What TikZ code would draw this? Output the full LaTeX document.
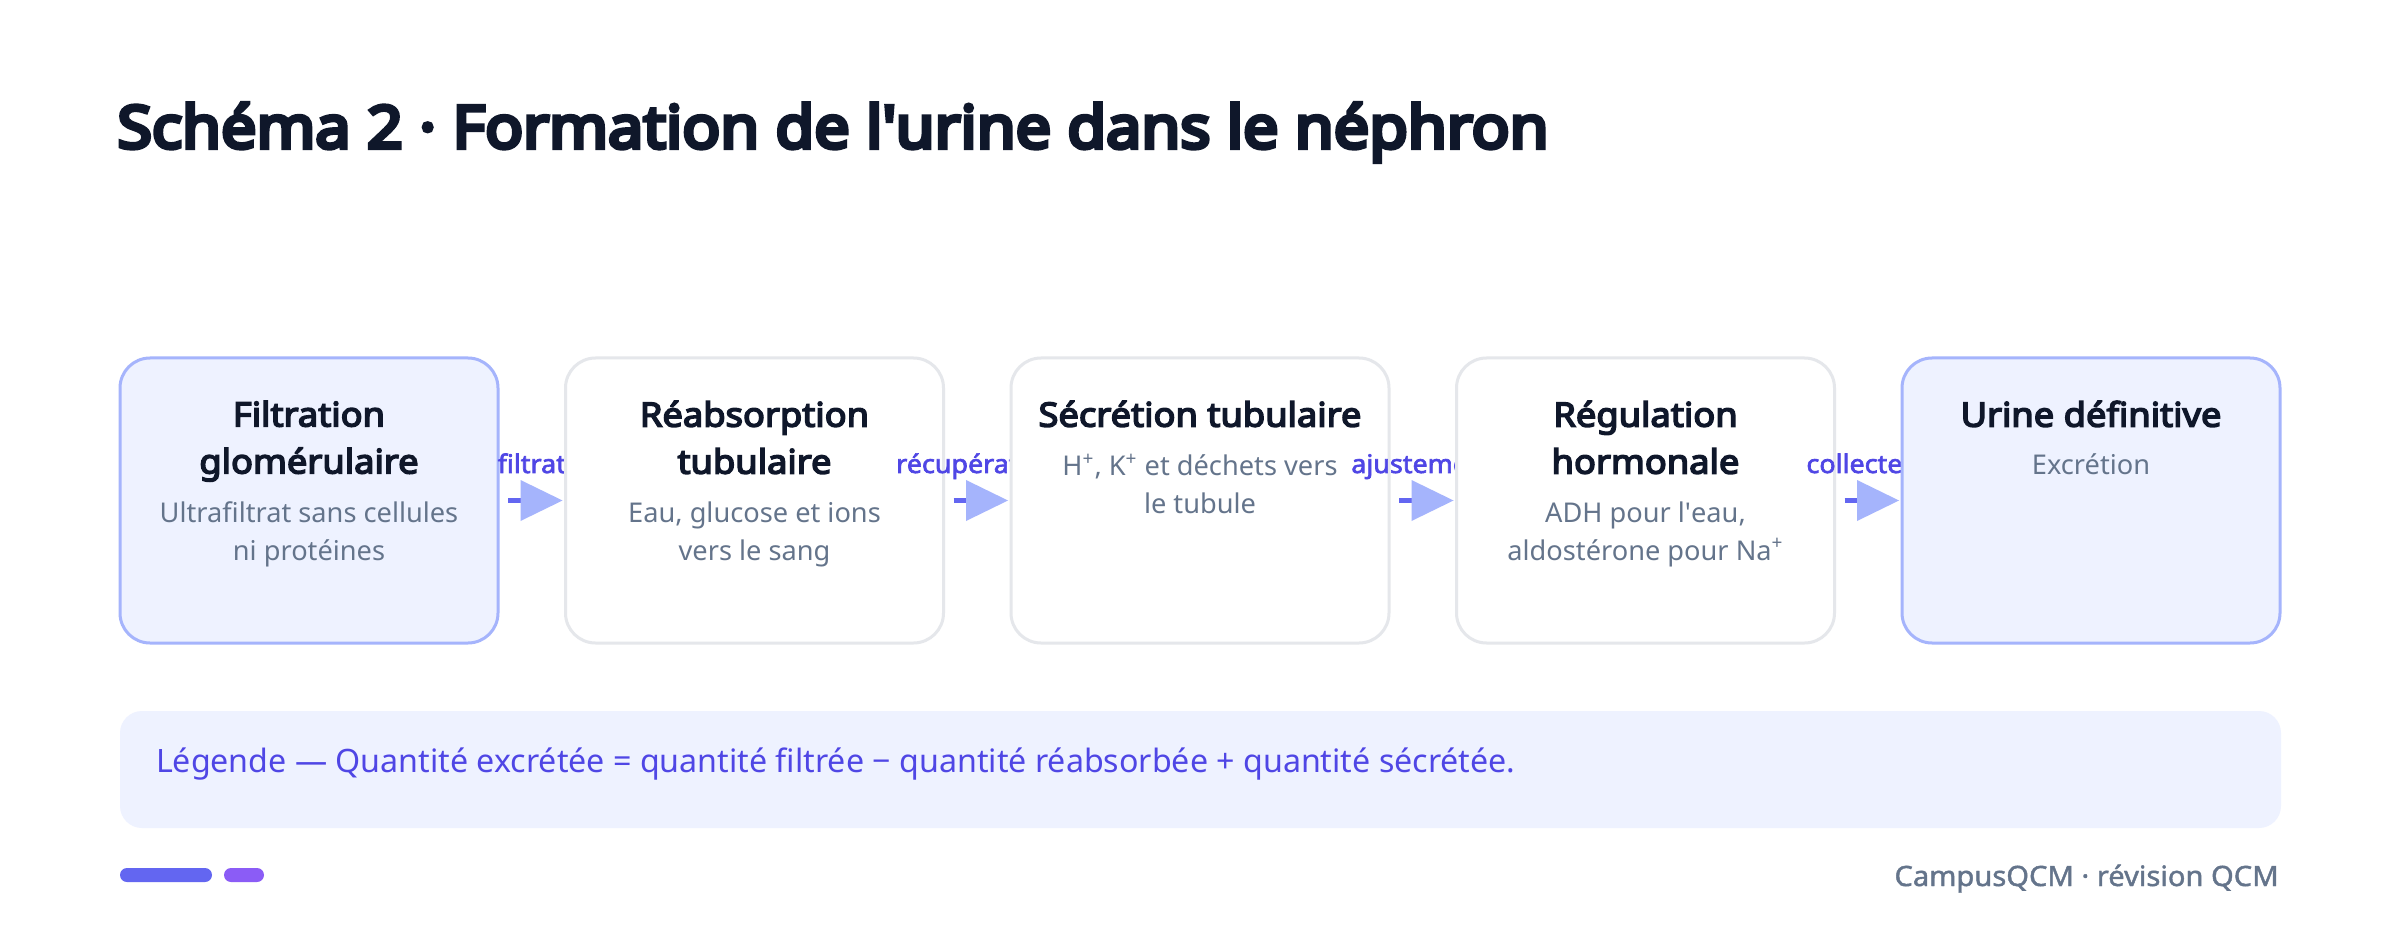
\documentclass[tikz,border=0pt]{standalone}
\usepackage{fontspec}
\setmainfont{Noto Sans}
\newfontfamily\heavyfont[FakeBold=7, FakeStretch=1.07]{Noto Sans}
\newfontfamily\boldfont[FakeBold=4.5, FakeStretch=1.08]{Noto Sans}
\newfontfamily\semifont[FakeBold=1.5, FakeStretch=1.04]{Noto Sans}
\newfontfamily\labelfont[FakeBold=2.5, FakeStretch=1.05]{Noto Sans}
\usetikzlibrary{positioning,arrows.meta}

\definecolor{ink}{HTML}{0F172A}
\definecolor{muted}{HTML}{64748B}
\definecolor{keyfill}{HTML}{EEF2FF}
\definecolor{keyline}{HTML}{A5B4FC}
\definecolor{plainline}{HTML}{E5E7EB}
\definecolor{flowtext}{HTML}{4F46E5}
\definecolor{flowline}{HTML}{6366F1}
\definecolor{flowhead}{HTML}{A5B4FC}
\definecolor{accentA}{HTML}{6366F1}
\definecolor{accentB}{HTML}{8B5CF6}

\begin{document}
\begin{tikzpicture}[x=0.5pt,y=-0.5pt]
        \tikzstyle{stagebox}=[rectangle, rounded corners=15pt, line width=1.5pt, minimum width=189pt, minimum height=142.5pt, inner sep=0pt, outer sep=0pt]
        \tikzstyle{keybox}=[stagebox, fill=keyfill, draw=keyline]
        \tikzstyle{plainbox}=[stagebox, fill=white, draw=plainline]
        \tikzstyle{headtext}=[anchor=north, inner sep=0pt, align=center, text=ink, font=\fontsize{16.8}{23.5}\boldfont]
        \tikzstyle{subtext}=[anchor=north, inner sep=0pt, align=center, text=muted, font=\fontsize{13.6}{18.75}\selectfont]
        \tikzstyle{flowlabel}=[anchor=base, inner sep=0pt, text=flowtext, font=\fontsize{12.8}{14}\labelfont]
        \tikzstyle{flowarrow}=[line width=2.5pt, draw=flowline, -{Triangle[length=21pt, width=20.5pt, line width=0pt, color=flowhead]}]

        \fill[white] (0,0) rectangle (2400,936);
        \useasboundingbox (0,0) rectangle (2400,936);

        % title
        \node (title) [anchor=base west, inner sep=0pt, text=ink, font=\fontsize{29.4}{34}\heavyfont] at (117,148) {Schéma 2 · Formation de l\textquotesingle urine dans le néphron};

        % stages, each label drawn before the next box covers it
        \node (filt) [keybox] at (309,500.5) {};
        \node (filthead) [headtext] at ([yshift=-21.25pt]filt.north) {Filtration\\glomérulaire};
        \node (filtsub) [subtext] at ([yshift=-71.85pt]filt.north) {Ultrafiltrat sans cellules\\ni protéines};
        \node (filtlab) [flowlabel] at ([xshift=16.9pt, yshift=13.75pt]filt.east) {filtrat};

        \node (reab) [plainbox, right=33.75pt of filt] {};
        \node (reabhead) [headtext] at ([yshift=-21.25pt]reab.north) {Réabsorption\\tubulaire};
        \node (reabsub) [subtext] at ([yshift=-71.85pt]reab.north) {Eau, glucose et ions\\vers le sang};
        \node (reablab) [flowlabel] at ([xshift=16.9pt, yshift=13.75pt]reab.east) {récupération};

        \node (secr) [plainbox, right=33.75pt of reab] {};
        \node (secrhead) [headtext] at ([yshift=-21.25pt]secr.north) {Sécrétion tubulaire};
        \node (secrsub) [subtext] at ([yshift=-47.85pt]secr.north) {H\textsuperscript{+}, K\textsuperscript{+} et déchets vers\\le tubule};
        \node (secrlab) [flowlabel] at ([xshift=16.9pt, yshift=13.75pt]secr.east) {ajustement};

        \node (regu) [plainbox, right=33.75pt of secr] {};
        \node (reguhead) [headtext] at ([yshift=-21.25pt]regu.north) {Régulation\\hormonale};
        \node (regusub) [subtext] at ([yshift=-71.85pt]regu.north) {ADH pour l\textquotesingle eau,\\aldostérone pour Na\textsuperscript{+}};
        \node (regulab) [flowlabel] at ([xshift=16.9pt, yshift=13.75pt]regu.east) {collecteur};

        \node (urine) [keybox, right=33.75pt of regu] {};
        \node (urinehead) [headtext] at ([yshift=-21.25pt]urine.north) {Urine définitive};
        \node (urinesub) [subtext] at ([yshift=-47.85pt]urine.north) {Excrétion};

        \draw[flowarrow] ([xshift=5pt]filt.east) -- ([xshift=-1.5pt]reab.west);
        \draw[flowarrow] ([xshift=5pt]reab.east) -- ([xshift=-1.5pt]secr.west);
        \draw[flowarrow] ([xshift=5pt]secr.east) -- ([xshift=-1.5pt]regu.west);
        \draw[flowarrow] ([xshift=5pt]regu.east) -- ([xshift=-1.5pt]urine.west);

        % legend
        \node (legend) [rectangle, rounded corners=11pt, fill=keyfill, minimum width=1080.5pt, minimum height=58.5pt, inner sep=0pt] at (1200.5,769.5) {};
        \node (legendtext) [anchor=base west, inner sep=0pt, text=flowtext, font=\fontsize{16.1}{19}\selectfont] at ([xshift=18pt, yshift=-1.25pt]legend.west) {Légende — Quantité excrétée = quantité filtrée − quantité réabsorbée + quantité sécrétée.};

        % footer
        \fill[accentA, rounded corners=3.5pt] (120,868) rectangle (212,882);
        \fill[accentB, rounded corners=3.5pt] (224,868) rectangle (264,882);
        \node (brand) [anchor=base east, inner sep=0pt, text=muted, font=\fontsize{14}{16}\semifont] at (2279,886) {CampusQCM · révision QCM};
\end{tikzpicture}
\end{document}
